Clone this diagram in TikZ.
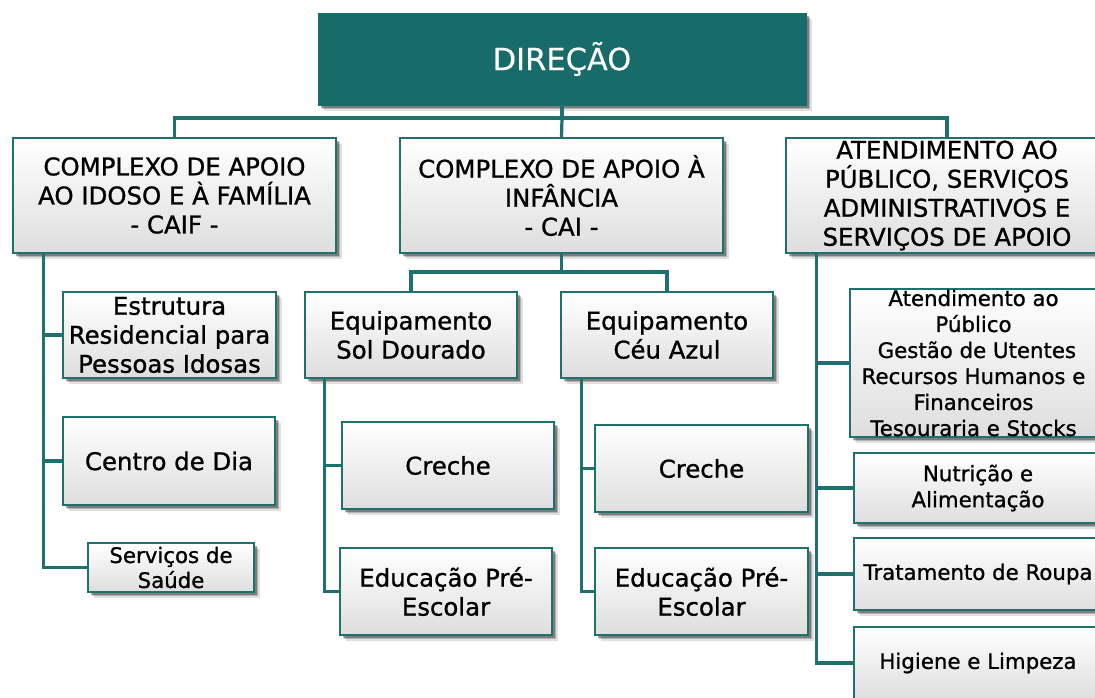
\documentclass[tikz,border=0pt]{standalone}
\usepackage{fontspec}
\setmainfont{DejaVu Sans}[FakeBold=1.0]
\newfontfamily\dirfont{DejaVu Sans}[FakeBold=0.3]
\usetikzlibrary{shadows}
\definecolor{teal1}{HTML}{176B68}
\definecolor{teal2}{HTML}{1E716D}
\tikzset{
  sh/.style={drop shadow={shadow xshift=6pt,shadow yshift=-6pt,opacity=.12,fill=black},
             drop shadow={shadow xshift=4pt,shadow yshift=-4pt,opacity=.2,fill=black},
             drop shadow={shadow xshift=2.5pt,shadow yshift=-2.5pt,opacity=.3,fill=black}},
  box/.style={sh,draw=teal2,line width=2.4pt,rectangle,inner sep=0pt,align=center,
              top color=white,bottom color=black!13,text=black},
  big/.style={box,font=\fontsize{24.4}{29}\selectfont},
  small/.style={box,font=\fontsize{21.3}{26}\selectfont},
  conn/.style={draw=teal2,line width=3.2pt},
}
\begin{document}
\begin{tikzpicture}[x=1pt,y=-1pt]
\useasboundingbox (0,0) rectangle (1095,697);
\clip (0,0) rectangle (1095,697);
\fill[white] (0,0) rectangle (1095,697);
% top
\node[sh,fill=teal1,draw=teal1,inner sep=0pt,minimum width=488pt,minimum height=92pt,
  text=white,font=\dirfont\fontsize{30.5}{36}\selectfont] (dir) at (562,59) {DIREÇÃO};
% level 1
\node[big,minimum width=323pt,minimum height=115pt] (caif) at (174.5,195.5)
  {COMPLEXO DE APOIO\\AO IDOSO E À FAMÍLIA\\- CAIF -};
\node[big,minimum width=323pt,minimum height=115pt] (cai) at (561.5,195.5)
  {COMPLEXO DE APOIO À\\INFÂNCIA\\- CAI -};
\node[big,minimum width=322pt,minimum height=115pt] (aps) at (947,195.5)
  {ATENDIMENTO AO\\PÚBLICO, SERVIÇOS\\ADMINISTRATIVOS E\\SERVIÇOS DE APOIO};
% CAIF children
\node[big,minimum width=213pt,minimum height=86pt] (erpi) at (169.5,335)
  {Estrutura\\Residencial para\\Pessoas Idosas};
\node[big,minimum width=212pt,minimum height=88pt] (cdia) at (169,461) {Centro de Dia};
\node[small,minimum width=166pt,minimum height=49pt,font=\fontsize{21.3}{25}\selectfont] (saude) at (171,567.5)
  {Serviços de\\Saúde};
% CAI children
\node[big,minimum width=212pt,minimum height=86pt] (sol) at (411,335) {Equipamento\\Sol Dourado};
\node[big,minimum width=212pt,minimum height=86pt] (ceu) at (667,335) {Equipamento\\Céu Azul};
\node[big,minimum width=212pt,minimum height=87pt] (cre1) at (448,465.5) {Creche};
\node[big,minimum width=212pt,minimum height=87pt] (edu1) at (446,591.5) {Educação Pré-\\Escolar};
\node[big,minimum width=213pt,minimum height=87pt] (cre2) at (701.5,468.5) {Creche};
\node[big,minimum width=213pt,minimum height=87pt] (edu2) at (701.5,591.5) {Educação Pré-\\Escolar};
% right children
\node[small,minimum width=247pt,minimum height=148pt] (aten) at (973.5,363)
  {Atendimento ao\\Público\\\ Gestão de Utentes\\Recursos Humanos e\\Financeiros\\Tesouraria e Stocks};
\node[small,minimum width=248pt,minimum height=70pt] (nutr) at (978,488) {Nutrição e\\Alimentação};
\node[small,minimum width=248pt,minimum height=72pt] (trat) at (978,574) {Tratamento de Roupa};
\node[small,minimum width=248pt,minimum height=72pt] (hig) at (978,663) {Higiene e Limpeza};
% connectors
\coordinate (b0) at (562,118);
\draw[conn] (dir.south) -- (b0);
\draw[conn] (caif.north) |- (b0) -| (aps.north);
\draw[conn] (b0) -- (cai.north);
\coordinate (b1) at (561.5,272);
\draw[conn] (cai.south) -- (b1);
\draw[conn] (sol.north) |- (b1) -| (ceu.north);
\coordinate (caifL) at ([xshift=32pt]caif.south west);
\draw[conn] (caifL) |- (erpi.west);
\draw[conn] (caifL) |- (cdia.west);
\draw[conn] (caifL) |- (saude.west);
\coordinate (solL) at ([xshift=21pt]sol.south west);
\draw[conn] (solL) |- (cre1.west);
\draw[conn] (solL) |- (edu1.west);
\coordinate (ceuL) at ([xshift=22pt]ceu.south west);
\draw[conn] (ceuL) |- (cre2.west);
\draw[conn] (ceuL) |- (edu2.west);
\coordinate (apsL) at ([xshift=32pt]aps.south west);
\draw[conn] (apsL) |- (aten.west);
\draw[conn] (apsL) |- (nutr.west);
\draw[conn] (apsL) |- (trat.west);
\draw[conn] (apsL) |- (hig.west);
\end{tikzpicture}
\end{document}
